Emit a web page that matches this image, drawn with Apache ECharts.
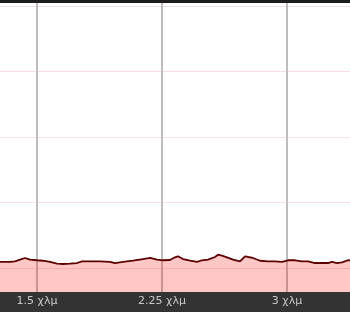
<!DOCTYPE html>
<html>
<head>
<meta charset="utf-8">
<style>html,body{margin:0;padding:0;background:#fff}#c{width:350px;height:312px}</style>
<script src="https://cdn.jsdelivr.net/npm/echarts@6/dist/echarts.min.js"></script>
</head>
<body>
<div id="c"></div>
<script>
// distance in km
var distanceKm = [1.26,1.278,1.338,1.368,1.398,1.428,1.458,1.5,1.536,1.578,1.62,1.656,1.698,1.74,1.77,1.818,1.878,1.938,1.968,2.016,2.076,2.136,2.178,2.22,2.256,2.298,2.328,2.346,2.376,2.418,2.46,2.49,2.526,2.568,2.586,2.61,2.64,2.676,2.718,2.748,2.766,2.796,2.838,2.886,2.928,2.97,3.006,3.048,3.09,3.126,3.168,3.21,3.246,3.27,3.3,3.33,3.366,3.4];
// profile value
var profileValue = [9.2,9.2,9.2,10.2,12.7,15.3,12.7,11.8,11.1,9.2,6.6,6.1,6.6,7.6,10.2,10.2,10.2,9.2,7.6,9.2,11.1,13.7,15.3,12.7,11.8,12.2,16.3,17.9,13.7,11.1,9.2,11.8,12.7,16.8,20.3,18.8,16.3,12.7,10.2,17.9,16.8,15.3,11.1,10.2,10.2,9.2,11.8,11.8,10.2,10.2,7.6,7.6,7.6,9.2,7.6,8.7,11.8,11.0];
var xTickLabels = {'1.5':'1.5 χλμ','2.25':'2.25 χλμ','3':'3 χλμ'};

var pts = distanceKm.map(function(d,i){return [d, profileValue[i]];});
var chart = echarts.init(document.getElementById('c'), null, {renderer:'canvas'});
var xCommon = {type:'value', min:0.75, max:3.75, interval:0.75};
chart.setOption({
  animation:false,
  backgroundColor:'#fff',
  grid:{left:-88, right:-62, top:-59.5, bottom:-21.5, containLabel:false, outerBoundsMode:'none'},
  xAxis:[
    Object.assign({}, xCommon, {
      z:0,
      axisLine:{show:false}, axisTick:{show:false}, axisLabel:{show:false},
      splitLine:{show:true, lineStyle:{color:'#bdbdbd', width:2}}
    }),
    Object.assign({}, xCommon, {
      z:200, position:'bottom', offset:-45.5,
      axisLine:{show:false}, axisTick:{show:false}, splitLine:{show:false},
      axisLabel:{show:true, margin:8, color:'#c8c8c8', fontSize:11, fontFamily:'DejaVu Sans',
        formatter:function(v){var k=String(+v.toFixed(2)); return xTickLabels[k]||'';}}
    })
  ],
  yAxis:{type:'value', min:-100, max:500, interval:100,
    axisLine:{show:false}, axisTick:{show:false}, axisLabel:{show:false},
    splitLine:{show:true, lineStyle:{color:'#f7dfe2', width:1}}},
  graphic:[
    {type:'rect', left:0, top:292, z:100, shape:{width:350, height:20}, style:{fill:'#333'}},
    {type:'rect', left:0, top:0, z:100, shape:{width:350, height:3}, style:{fill:'#1e1e1e'}}
  ],
  series:[{
    type:'line', data:pts, xAxisIndex:0, showSymbol:false, symbol:'none',
    lineStyle:{color:'#5e0000', width:1.8},
    areaStyle:{color:'rgba(255,0,0,0.32)', origin:'start'},
    z:2
  }]
});
</script>
</body>
</html>
